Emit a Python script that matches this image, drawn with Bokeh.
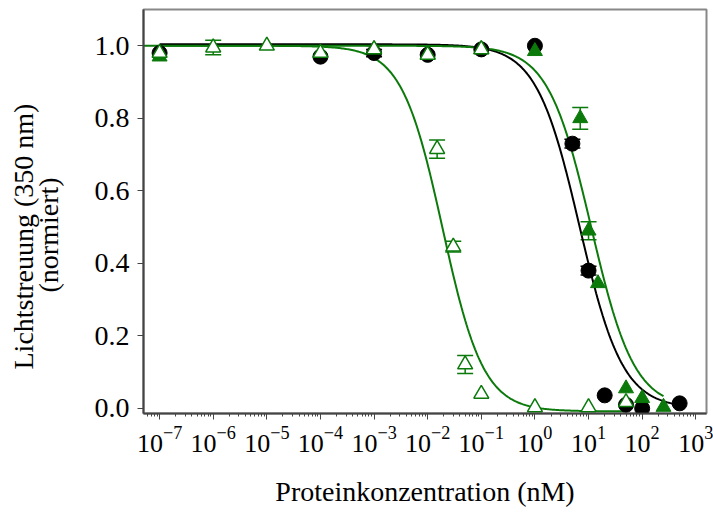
import numpy as np
from bokeh.plotting import figure
from bokeh.models import (ColumnDataSource, FixedTicker, LogTickFormatter, NumeralTickFormatter,
                          Whisker, TeeHead, Title, Range1d)
from bokeh.embed import file_html
from bokeh.resources import INLINE

# ---- measured data (protein concentration in nM, normalised light scattering) ----
black_x = [1e-7, 1e-4, 1e-3, 1e-2, 1e-1, 1, 5, 10, 20, 50, 100, 500]
black_y = [0.98, 0.97, 0.98, 0.975, 0.99, 1.0, 0.73, 0.38, 0.036, 0.01, 0.0, 0.014]
black_err = [0.0, 0.0, 0.01, 0.0, 0.0, 0.0, 0.012, 0.012, 0.0, 0.0, 0.0, 0.0]

fill_x = [1e-7, 1e-3, 1e-2, 1e-1, 1, 7, 10, 15, 50, 100, 250]
fill_y = [0.97, 0.99, 0.975, 0.99, 0.985, 0.80, 0.49, 0.345, 0.055, 0.028, 0.004]
fill_err = [0.0, 0.01, 0.0, 0.0, 0.0, 0.03, 0.025, 0.0, 0.0, 0.0, 0.0]

open_x = [1e-7, 1e-6, 1e-5, 1e-4, 1e-3, 1e-2, 1e-1, 0.015, 0.03, 0.05, 0.1, 1, 10, 50]
open_y = [0.98, 0.995, 1.0, 0.98, 0.99, 0.975, 0.99, 0.715, 0.446, 0.121, 0.04, 0.003, 0.003, 0.017]
open_err = [0.0, 0.02, 0.0, 0.0, 0.0, 0.0, 0.0, 0.025, 0.015, 0.025, 0.0, 0.0, 0.0, 0.0]

# ---- four-parameter logistic fits: (top, bottom, EC50 [nM], Hill slope, x start, x end) ----
fit_black = (1.004, 0.0, 6.8, 1.08, 1e-7, 500)
fit_fill = (1.0, 0.0, 11.2, 1.08, 1e-7, 250)
fit_open = (1.0, -0.008, 0.019, 1.14, 10 ** -7.5, 46)

y_ticks = [0.0, 0.2, 0.4, 0.6, 0.8, 1.0]
x_ticks = [10.0 ** e for e in range(-7, 4)]

GREEN = "#0b7a0b"
FONT = "Liberation Serif"
FS = "28px"


def logistic(params, n=400):
    top, bottom, ec50, hill, x0, x1 = params
    xs = np.logspace(np.log10(x0), np.log10(x1), n)
    ys = bottom + (top - bottom) / (1.0 + (xs / ec50) ** hill)
    return xs, ys


p = figure(width=713, height=513, x_axis_type="log",
           x_range=Range1d(10 ** -7.3, 10 ** 3.2), y_range=Range1d(-0.014, 1.1),
           output_backend="svg", toolbar_location=None,
           min_border_left=143, min_border_right=7, min_border_top=9, min_border_bottom=100)

p.background_fill_color = "white"
p.border_fill_color = "white"
p.outline_line_color = "#888888"
p.outline_line_width = 2
p.xgrid.visible = False
p.ygrid.visible = False

# fitted curves
for params, color in [(fit_open, GREEN), (fit_black, "black"), (fit_fill, GREEN)]:
    xs, ys = logistic(params)
    p.line(xs, ys, line_color=color, line_width=2)


def add_errors(xs, ys, errs, color):
    sel = [i for i, e in enumerate(errs) if e > 0]
    src = ColumnDataSource(dict(x=[xs[i] for i in sel],
                                lo=[ys[i] - errs[i] for i in sel],
                                hi=[ys[i] + errs[i] for i in sel]))
    w = Whisker(base="x", lower="lo", upper="hi", source=src, line_color=color, line_width=1.5,
                upper_head=TeeHead(size=16, line_color=color, line_width=1.5),
                lower_head=TeeHead(size=16, line_color=color, line_width=1.5),
                level="underlay")
    p.add_layout(w)


add_errors(black_x, black_y, black_err, "black")
add_errors(fill_x, fill_y, fill_err, GREEN)
add_errors(open_x, open_y, open_err, GREEN)

p.scatter(black_x, black_y, marker="circle", size=15, fill_color="black", line_color="black")
p.scatter(fill_x, fill_y, marker="triangle", size=15, fill_color=GREEN, line_color=GREEN)
p.scatter(open_x, open_y, marker="triangle", size=15, fill_color="white", line_color=GREEN,
          line_width=1.5)

# axes
for ax in (p.xaxis[0], p.yaxis[0]):
    ax.axis_line_color = "#444444"
    ax.axis_line_width = 2
    ax.major_tick_line_color = "#444444"
    ax.minor_tick_line_color = "#444444"
    ax.major_tick_in = 0
    ax.minor_tick_in = 0
    ax.major_label_text_font = FONT
    ax.major_label_text_font_size = FS
    ax.major_label_text_color = "black"
    ax.axis_label_text_font = FONT
    ax.axis_label_text_font_style = "normal"
    ax.axis_label_text_font_size = FS
    ax.axis_label_text_color = "black"

minor = [k * 10.0 ** e for e in range(-8, 4) for k in range(2, 10)]
p.xaxis.ticker = FixedTicker(ticks=x_ticks, minor_ticks=minor)
p.xaxis.formatter = LogTickFormatter()
p.xaxis.major_label_text_font_size = "26px"
p.xaxis.major_tick_out = 6
p.xaxis.minor_tick_out = 3
p.xaxis.major_label_standoff = 7
p.xaxis.axis_label = "Proteinkonzentration (nM)"
p.xaxis.axis_label_standoff = 21

p.yaxis.ticker = FixedTicker(ticks=y_ticks, minor_ticks=[])
p.yaxis.formatter = NumeralTickFormatter(format="0.0")
p.yaxis.major_tick_out = 6
p.yaxis.major_label_standoff = 8
p.yaxis.axis_label = None

# two-line y title, stacked outward from the axis; offset lifts each line from the frame bottom
for txt, gap, lift in [("(normiert)", 56, 121), ("Lichtstreuung (350 nm)", -72, 44)]:
    p.add_layout(Title(text=txt, align="left", offset=lift, standoff=gap,
                       text_font=FONT, text_font_size=FS, text_font_style="normal",
                       text_color="black"), "left")

open("out.html", "w").write(file_html(p, INLINE))
